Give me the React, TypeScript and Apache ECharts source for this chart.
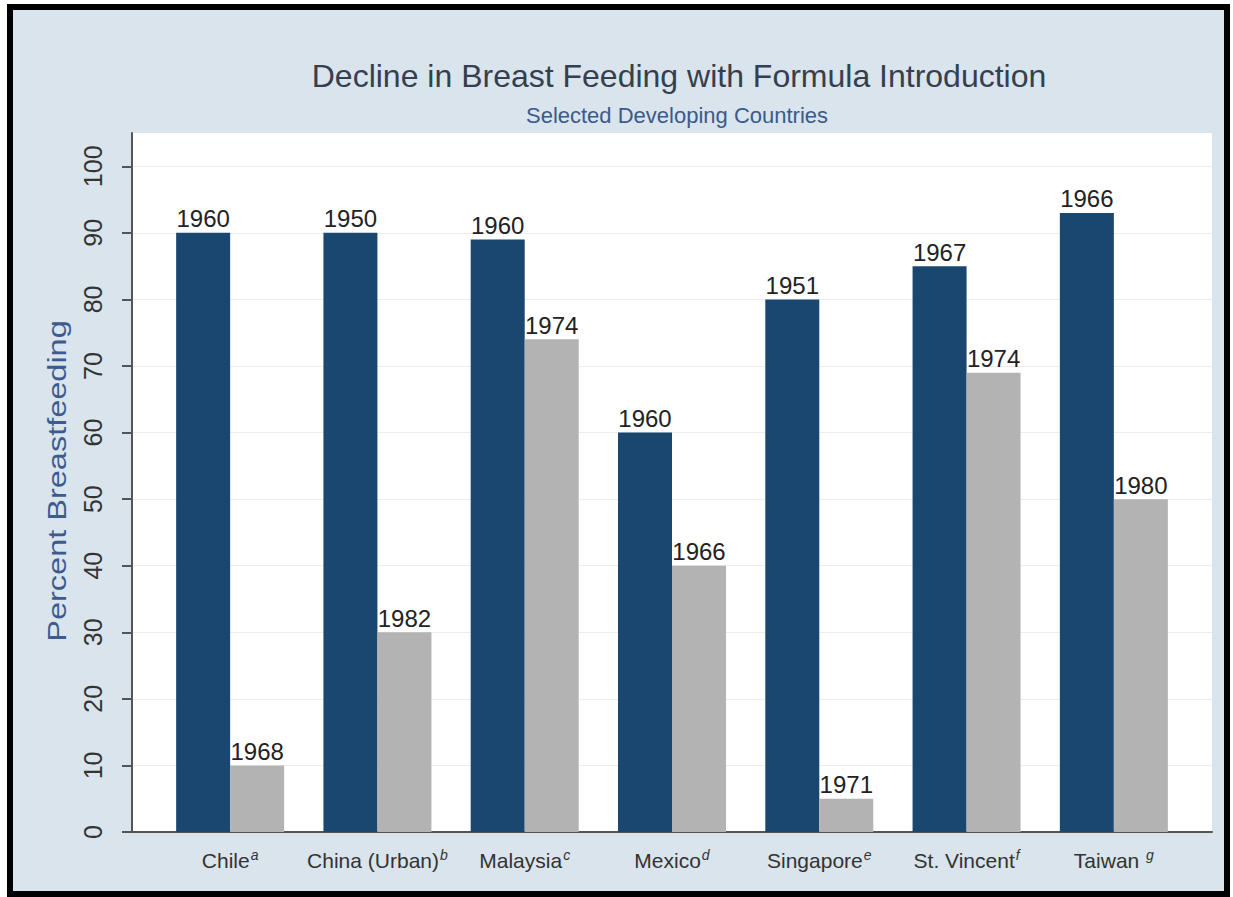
import React, { useEffect, useRef } from "react";
import * as echarts from "echarts";

const countries = ["Chile", "China (Urban)", "Malaysia", "Mexico", "Singapore", "St. Vincent", "Taiwan "];
const footnotes = ["a", "b", "c", "d", "e", "f", "g"];
const beforeValues = [90, 90, 89, 60, 80, 85, 93];
const afterValues = [10, 30, 74, 40, 5, 69, 50];
const beforeYears = [1960, 1950, 1960, 1960, 1951, 1967, 1966];
const afterYears = [1968, 1982, 1974, 1966, 1971, 1974, 1980];
const yTicks = [0, 10, 20, 30, 40, 50, 60, 70, 80, 90, 100];

const FONT = "'Liberation Sans', Arial, Helvetica, sans-serif";

export default function App() {
  const ref = useRef<HTMLDivElement>(null);
  useEffect(() => {
    if (!ref.current) return;
    const chart = echarts.init(ref.current, null, { renderer: "svg" });
    const barLabel = (years: number[]) => ({
      show: true,
      position: "top",
      distance: 2,
      fontSize: 24,
      color: "#222",
      fontFamily: FONT,
      formatter: (p: any) => String(years[p.dataIndex]),
    });
    chart.setOption({
      animation: false,
      backgroundColor: "transparent",
      textStyle: { fontFamily: FONT },
      title: [
        {
          text: "Decline in Breast Feeding with Formula Introduction",
          left: 674,
          top: 55,
          textAlign: "center",
          textStyle: { fontSize: 32, fontWeight: "normal", color: "#34404f", fontFamily: FONT },
        },
        {
          text: "Selected Developing Countries",
          left: 672,
          top: 99,
          textAlign: "center",
          textStyle: { fontSize: 22, fontWeight: "normal", color: "#3c5a8a", fontFamily: FONT },
        },
      ],
      graphic: [
        {
          type: "text",
          x: 57,
          y: 481,
          rotation: Math.PI / 2,
          scaleX: 1.25,
          style: {
            text: "Percent Breastfeeding",
            fontSize: 26,
            fontFamily: FONT,
            fill: "#3d5b8f",
            align: "center",
            verticalAlign: "middle",
          },
        },
      ],
      grid: [
        { left: 132, right: 21, top: 133, bottom: 65, show: true, backgroundColor: "#ffffff", borderWidth: 0 },
        { left: 156.5, right: 45.5, top: 133, bottom: 65 },
      ],
      xAxis: [
        {
          gridIndex: 0,
          type: "value",
          min: 0,
          max: 1,
          axisLine: { show: true, lineStyle: { color: "#555", width: 2 } },
          axisTick: { show: false },
          axisLabel: { show: false },
          splitLine: { show: false },
        },
        {
          gridIndex: 1,
          type: "category",
          data: countries,
          axisLine: { show: false },
          axisTick: { show: false },
          axisLabel: {
            margin: 16,
            interval: 0,
            formatter: (v: string, i: number) => `{n|${v}}{s|${footnotes[i]}}`,
            rich: {
              n: { fontSize: 21, color: "#333", fontFamily: FONT, lineHeight: 24 },
              s: { fontSize: 14, fontStyle: "italic", color: "#333", fontFamily: FONT, verticalAlign: "top", lineHeight: 24, padding: [0, 0, 10, 1] },
            },
          },
        },
      ],
      yAxis: [
        {
          gridIndex: 0,
          type: "value",
          min: 0,
          max: 105,
          interval: 10,
          axisLine: { show: true, lineStyle: { color: "#555", width: 2 } },
          axisTick: { show: true, length: 10, lineStyle: { color: "#555", width: 2 }, customValues: yTicks },
          axisLabel: {
            rotate: 90,
            fontSize: 25,
            color: "#333",
            margin: 27,
            fontFamily: FONT,
            customValues: yTicks,
          },
          splitLine: { show: true, lineStyle: { color: "#ebeef0", width: 1 } },
        },
        { gridIndex: 1, type: "value", min: 0, max: 105, show: false },
      ],
      series: [
        {
          type: "bar",
          xAxisIndex: 1,
          yAxisIndex: 1,
          data: beforeValues,
          barWidth: 54,
          barGap: "0%",
          itemStyle: { color: "#1a476f" },
          label: barLabel(beforeYears),
        },
        {
          type: "bar",
          xAxisIndex: 1,
          yAxisIndex: 1,
          data: afterValues,
          barWidth: 54,
          barGap: "0%",
          itemStyle: { color: "#b3b3b3" },
          label: barLabel(afterYears),
        },
      ],
    });
    return () => chart.dispose();
  }, []);
  return (
    <div style={{ position: "absolute", left: 0, top: 0, width: 1233, height: 897, background: "#fff" }}>
      <div
        style={{
          position: "absolute",
          left: 7,
          top: 4,
          width: 1223,
          height: 893,
          boxSizing: "border-box",
          border: "6px solid #000",
          background: "#d9e4ec",
        }}
      />
      <div ref={ref} style={{ position: "absolute", left: 0, top: 0, width: 1233, height: 897 }} />
    </div>
  );
}
